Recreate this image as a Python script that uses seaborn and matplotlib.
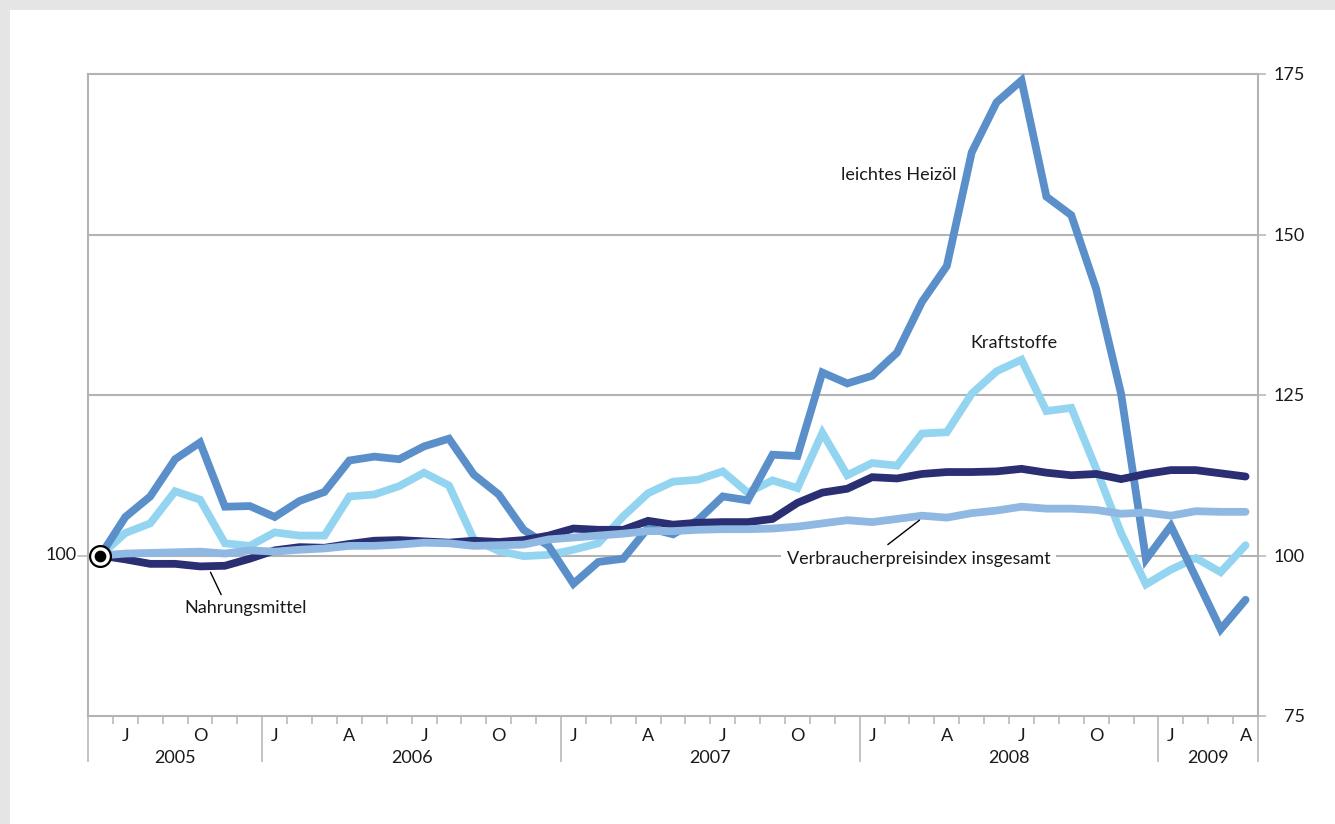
import numpy as np
import pandas as pd
import seaborn as sns
import matplotlib.pyplot as plt
from matplotlib.patches import Rectangle

sns.set_style('white')
plt.rcParams['font.family'] = ['Lato', 'DejaVu Sans']

# monthly index, June 2005 = 100 (month 0) ... April 2009 (month 46)
months = list(range(47))

heizoel = [100, 106.0, 109.2, 115.0, 117.6, 107.6, 107.7, 106.0, 108.5, 109.9,
           114.8, 115.4, 115.0, 117.0, 118.2, 112.6, 109.5, 104.0, 101.5, 95.6,
           99.0, 99.5, 104.3, 103.3, 105.5, 109.2, 108.6, 115.7, 115.5, 128.5,
           126.8, 128.0, 131.6, 139.5, 145.1, 162.8, 170.6, 174.0, 155.9, 153.0,
           141.5, 125.2, 99.4, 104.6, 96.6, 88.5, 93.1]

kraftstoffe = [100, 103.5, 105.0, 110.0, 108.7, 101.9, 101.5, 103.6, 103.1, 103.1,
               109.2, 109.5, 110.8, 112.9, 110.9, 102.5, 100.7, 99.9, 100.1, 100.9,
               101.9, 106.1, 109.7, 111.5, 111.8, 113.1, 109.8, 111.7, 110.5, 119.1,
               112.5, 114.4, 114.0, 119.0, 119.2, 125.2, 128.7, 130.5, 122.5, 123.0,
               113.5, 103.5, 95.5, 97.8, 99.6, 97.4, 101.6]

nahrung = [100, 99.4, 98.7, 98.7, 98.3, 98.4, 99.5, 100.8, 101.3, 101.2,
           101.8, 102.3, 102.4, 102.2, 102.0, 102.3, 102.1, 102.4, 103.1, 104.2,
           104.0, 104.0, 105.4, 104.8, 105.1, 105.2, 105.2, 105.7, 108.2, 109.8,
           110.4, 112.2, 112.0, 112.7, 113.0, 113.0, 113.1, 113.5, 112.9, 112.5,
           112.7, 111.9, 112.7, 113.3, 113.3, 112.8, 112.3]

vpi = [100, 100.3, 100.4, 100.5, 100.6, 100.3, 100.8, 100.6, 100.9, 101.1,
       101.5, 101.5, 101.7, 102.0, 101.9, 101.5, 101.6, 101.7, 102.5, 102.8,
       103.1, 103.4, 103.8, 103.8, 104.0, 104.1, 104.1, 104.2, 104.5, 105.0,
       105.5, 105.2, 105.7, 106.2, 105.9, 106.6, 107.0, 107.6, 107.3, 107.3,
       107.1, 106.5, 106.7, 106.2, 106.9, 106.8, 106.8]

month_pos = [1, 4, 7, 10, 13, 16, 19, 22, 25, 28, 31, 34, 37, 40, 43, 46]
month_labels = ['J', 'O', 'J', 'A', 'J', 'O', 'J', 'A', 'J', 'O', 'J', 'A', 'J', 'O', 'J', 'A']
year_pos = [3, 12.5, 24.5, 36.5, 44.5]
year_labels = ['2005', '2006', '2007', '2008', '2009']
year_bounds = [-0.5, 6.5, 18.5, 30.5, 42.5, 46.5]

series = ['Kraftstoffe', 'leichtes Heizöl', 'Nahrungsmittel', 'Verbraucherpreisindex insgesamt']
colors = ['#93d5f0', '#5a8fca', '#2a2e72', '#8fb8e2']

df = pd.DataFrame({
    'Monat': months * 4,
    'Index': kraftstoffe + heizoel + nahrung + vpi,
    'Reihe': [s for s in series for _ in months],
})

grey = '#b3b3b3'
txt = '#1a1a1a'
fs = 13

fig = plt.figure(figsize=(13.35, 8.24), dpi=100)
fig.patch.set_facecolor('#e5e5e5')
fig.add_artist(Rectangle((10 / 1335, 0), 1, 1 - 10 / 824, transform=fig.transFigure,
                         facecolor='white', edgecolor='none', zorder=0))

ax = fig.add_axes([88 / 1335, 1 - 716 / 824, (1258 - 88) / 1335, (716 - 74) / 824])
ax.set_facecolor('none')

for y in [100, 125, 150]:
    ax.axhline(y, color=grey, lw=1.5, zorder=0)

sns.lineplot(data=df, x='Monat', y='Index', hue='Reihe', hue_order=series,
             palette=dict(zip(series, colors)), linewidth=5.6, legend=False, ax=ax,
             solid_joinstyle='miter', zorder=3)

ax.set_xlim(-0.5, 46.5)
ax.set_ylim(75, 175)
ax.set_xlabel('')
ax.set_ylabel('')

for sp in ax.spines.values():
    sp.set_color(grey)
    sp.set_linewidth(1.5)

# x axis: month ticks short, year boundaries long
ax.set_xticks(year_bounds)
ax.set_xticklabels([])
ax.set_xticks([m + 0.5 for m in months[:-1]], minor=True)
ax.tick_params(axis='x', which='both', bottom=True)
ax.tick_params(axis='x', which='major', length=33, width=1.1, color=grey, direction='out')
ax.tick_params(axis='x', which='minor', length=5.5, width=1.1, color=grey, direction='out')

for p, lab in zip(month_pos, month_labels):
    ax.text(p, -0.031, lab, transform=ax.get_xaxis_transform(), ha='center', va='center',
            fontsize=fs, color=txt)
for p, lab in zip(year_pos, year_labels):
    ax.text(p, -0.0655, lab, transform=ax.get_xaxis_transform(), ha='center', va='center',
            fontsize=fs, color=txt)

# y axis on the right
ax.yaxis.tick_right()
ax.set_yticks([75, 100, 125, 150, 175])
ax.tick_params(axis='y', right=True, length=5.5, width=1.1, color=grey, labelcolor=txt,
               labelsize=fs, pad=28)
for lab in ax.get_yticklabels():
    lab.set_horizontalalignment('right')

ax.plot([-0.5 - 10 / 24.89, -0.5], [100, 100], color=grey, lw=1.1, clip_on=False)
ax.text(-0.95, 100, '100', ha='right', va='center', fontsize=fs, color=txt)

# start marker
ax.scatter([0], [100], s=225, facecolor='white', edgecolor='black', linewidth=1.6,
           zorder=6, clip_on=False)
ax.scatter([0], [100], s=55, color='black', zorder=7, clip_on=False)

# series labels
ax.text(34.4, 159.3, 'leichtes Heizöl', ha='right', va='center', fontsize=fs, color=txt)
ax.text(34.95, 133.1, 'Kraftstoffe', ha='left', va='center', fontsize=fs, color=txt)
ax.text(27.56, 99.5, 'Verbraucherpreisindex insgesamt', ha='left', va='center', fontsize=fs,
        color=txt, zorder=5,
        bbox=dict(facecolor='white', edgecolor='none', pad=4))
ax.text(3.37, 91.9, 'Nahrungsmittel', ha='left', va='center', fontsize=fs, color=txt)
ax.plot([31.63, 32.9], [101.7, 105.5], color='black', lw=1, zorder=6)
ax.plot([4.42, 4.85], [97.4, 93.9], color='black', lw=1, zorder=6)

fig.savefig('out.png', dpi=100)
